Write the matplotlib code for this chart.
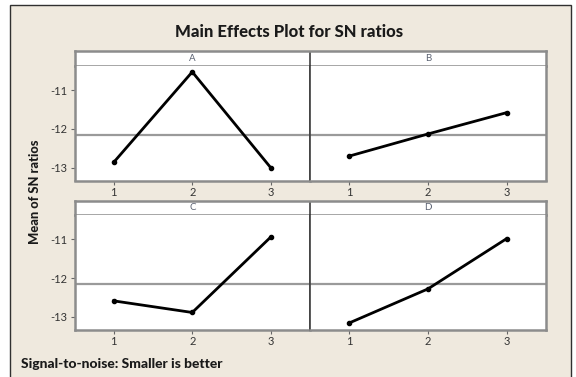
import matplotlib
matplotlib.use("Agg")
import matplotlib.pyplot as plt
from matplotlib.patches import Rectangle
import numpy as np

# ---- data ----
levels = [1, 2, 3]
factors = ["A", "B", "C", "D"]
A_vals = [-12.86, -10.53, -13.00]
B_vals = [-12.70, -12.13, -11.58]
C_vals = [-12.59, -12.89, -10.94]
D_vals = [-13.16, -12.28, -10.98]
grand_mean = -12.15
y_ticks = [-13, -12, -11]
y_tick_labels = ["-13", "-12", "-11"]

title = "Main Effects Plot for SN ratios"
ylabel = "Mean of SN ratios"
footer = "Signal-to-noise: Smaller is better"

series = [A_vals, B_vals, C_vals, D_vals]

W, H = 576, 377
fig = plt.figure(figsize=(W / 100, H / 100), dpi=100)
fig.patch.set_facecolor("white")
plt.rcParams["font.family"] = ["Lato", "DejaVu Sans"]

def fx(px):
    return px / W

def fy(py):
    return 1 - py / H

# beige frame
frame = Rectangle((fx(10), fy(380)), fx(571) - fx(10), fy(5) - fy(380),
                  transform=fig.transFigure, facecolor="#EFE9DE",
                  edgecolor="#303030", lw=1.0, zorder=-10)
fig.patches.append(frame)

box_col = "#8c8c8c"
left, mid, right = 74.5, 310, 546
rows = [(51, 65.7, 180.5), (201, 215, 329.5)]
ylim = (-13.33, -10.37)
xlim = (0.5, 3.5)

k = 0
for r, (top, sbot, pbot) in enumerate(rows):
    # strip
    sax = fig.add_axes([fx(left), fy(sbot), fx(right) - fx(left), fy(top) - fy(sbot)])
    sax.set_facecolor("white")
    sax.set_xlim(0, 1)
    sax.set_ylim(0, 1)
    sax.set_xticks([])
    sax.set_yticks([])
    for s in sax.spines.values():
        s.set_color(box_col)
        s.set_linewidth(1.8)
    dv = (mid - left) / (right - left)
    sax.axvline(dv, color="#404040", lw=1.2)
    for c in range(2):
        cx = (dv / 2) if c == 0 else (dv + (1 - dv) / 2)
        sax.text(cx, 0.5, factors[k + c], ha="center", va="center",
                 fontsize=7, color="#5b6272")
    for c in range(2):
        x0 = left if c == 0 else mid
        x1 = mid if c == 0 else right
        ax = fig.add_axes([fx(x0), fy(pbot), fx(x1) - fx(x0), fy(sbot) - fy(pbot)])
        ax.set_facecolor("white")
        ax.set_xlim(*xlim)
        ax.set_ylim(*ylim)
        ax.axhline(grand_mean, color="#9a9a9a", lw=1.6, zorder=1)
        ax.plot(levels, series[k + c], color="black", lw=2.0, marker="o",
                markersize=3, zorder=3)
        ax.set_xticks(levels)
        ax.set_xticklabels([str(v) for v in levels], fontsize=8, color="#333333")
        ax.tick_params(axis="x", length=3, width=0.8, color="#666666", pad=2)
        if c == 0:
            ax.set_yticks(y_ticks)
            ax.set_yticklabels(y_tick_labels, fontsize=8, color="#333333")
            ax.tick_params(axis="y", length=3, width=0.8, color="#666666", pad=2)
        else:
            ax.set_yticks([])
        for name, s in ax.spines.items():
            s.set_color(box_col)
            s.set_linewidth(1.8)
        if c == 0:
            ax.spines["right"].set_color("#404040")
            ax.spines["right"].set_linewidth(1.2)
        else:
            ax.spines["left"].set_color("#404040")
            ax.spines["left"].set_linewidth(1.2)
        ax.spines["top"].set_visible(False)
    k += 2

fig.text(fx(289), fy(32), title, ha="center", va="center",
         fontsize=12, fontweight="black", color="#1a1a1a")
fig.text(fx(35), fy(192), ylabel, ha="center", va="center", rotation=90,
         fontsize=9.3, fontweight="black", color="#1a1a1a")
fig.text(fx(21), fy(364), footer, ha="left", va="center",
         fontsize=10, fontweight="black", color="#1a1a1a")

fig.savefig("out.png", dpi=100, facecolor=fig.get_facecolor())
